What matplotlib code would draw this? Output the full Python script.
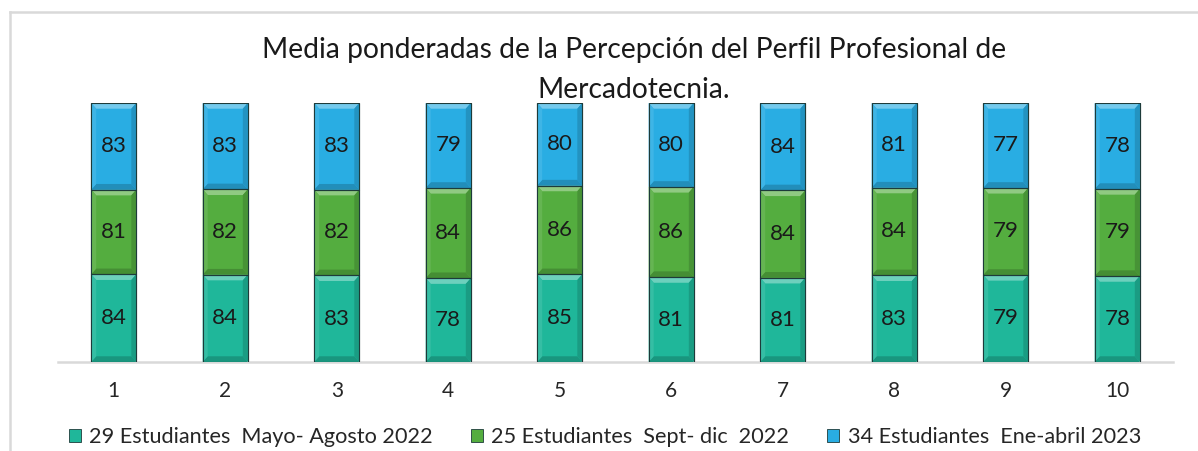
import numpy as np
import matplotlib.pyplot as plt
from matplotlib.patches import Polygon, Rectangle
from matplotlib.lines import Line2D
import matplotlib.colors as mcolors

plt.rcParams['font.family'] = ['Lato', 'DejaVu Sans']

categories = ['1', '2', '3', '4', '5', '6', '7', '8', '9', '10']
mayo_ago_2022 = [84, 84, 83, 78, 85, 81, 81, 83, 79, 78]
sept_dic_2022 = [81, 82, 82, 84, 86, 86, 84, 84, 79, 79]
ene_abr_2023 = [83, 83, 83, 79, 80, 80, 84, 81, 77, 78]
series_names = ['29 Estudiantes  Mayo- Agosto 2022',
                '25 Estudiantes  Sept- dic  2022',
                '34 Estudiantes  Ene-abril 2023']
series_colors = ['#1fb79a', '#54ad3f', '#29ade3']

title = 'Media ponderadas de la Percepción del Perfil Profesional de\nMercadotecnia.'

data = np.array([mayo_ago_2022, sept_dic_2022, ene_abr_2023], dtype=float)
shares = data / data.sum(axis=0)


def shade(color, f):
    r, g, b = mcolors.to_rgb(color)
    if f > 0:
        return (r + (1 - r) * f, g + (1 - g) * f, b + (1 - b) * f)
    return (r * (1 + f), g * (1 + f), b * (1 + f))


fig = plt.figure(figsize=(11.98, 4.51), dpi=100)
ax = fig.add_axes([58 / 1198, 1 - 362 / 451, 1115 / 1198, 259 / 451])

x = np.arange(len(categories))
width = 0.405
bx = 0.045
by = 0.022
bottom = np.zeros(len(categories))
for s in range(3):
    c = series_colors[s]
    ax.bar(x, shares[s], width, bottom=bottom, color=c,
           edgecolor='#1d3b3a', linewidth=0.8, zorder=2)
    for i in range(len(categories)):
        x0 = x[i] - width / 2
        x1 = x[i] + width / 2
        y0 = bottom[i]
        y1 = bottom[i] + shares[s][i]
        top = [(x0, y1), (x1, y1), (x1 - bx, y1 - by), (x0 + bx, y1 - by)]
        bot = [(x0, y0), (x1, y0), (x1 - bx, y0 + by), (x0 + bx, y0 + by)]
        left = [(x0, y0), (x0, y1), (x0 + bx, y1 - by), (x0 + bx, y0 + by)]
        right = [(x1, y0), (x1, y1), (x1 - bx, y1 - by), (x1 - bx, y0 + by)]
        for pts, f in [(top, 0.35), (bot, -0.18), (left, 0.1), (right, -0.15)]:
            ax.add_patch(Polygon(pts, closed=True, facecolor=shade(c, f),
                                 edgecolor='none', zorder=3))
        ax.add_patch(Rectangle((x0, y0), width, y1 - y0, fill=False,
                               edgecolor='#1d3b3a', linewidth=0.8, zorder=4))
        ax.text(x[i], (y0 + y1) / 2, '%d' % data[s][i], ha='center',
                va='center', fontsize=16, color='#1a1a1a', zorder=5)
    bottom = bottom + shares[s]

ax.set_xlim(-0.5, len(categories) - 0.5)
ax.set_ylim(0, 1)
ax.set_xticks(x)
ax.set_xticklabels(categories, fontsize=15, color='#262626')
ax.tick_params(axis='x', length=0, pad=14)
ax.set_yticks([])
for sp in ['top', 'right', 'left']:
    ax.spines[sp].set_visible(False)
ax.spines['bottom'].set_color('#d9d9d9')
ax.spines['bottom'].set_linewidth(1.8)

fig.text(634 / 1198, 1 - 70 / 451, title, ha='center', va='center',
         fontsize=20.3, color='#1a1a1a', linespacing=1.62)

handles = [Rectangle((0, 0), 1, 1, facecolor=c, edgecolor='#1d3b3a', linewidth=0.6)
           for c in series_colors]
fig.legend(handles, series_names, loc='center', ncol=3,
           bbox_to_anchor=(605 / 1198, 1 - 437 / 451), frameon=False,
           fontsize=15.6, handlelength=0.55, handleheight=0.55,
           handletextpad=0.4, columnspacing=1.75, labelcolor='#262626',
           borderpad=0.2)

# outer frame (clipped chart area)
fig.add_artist(Line2D([9.5 / 1198, 9.5 / 1198], [0, 1 - 12 / 451],
                      color='#d9d9d9', linewidth=1.8))
fig.add_artist(Line2D([9.5 / 1198, 1], [1 - 12 / 451, 1 - 12 / 451],
                      color='#d9d9d9', linewidth=1.8))

fig.savefig('out.png', dpi=100)
